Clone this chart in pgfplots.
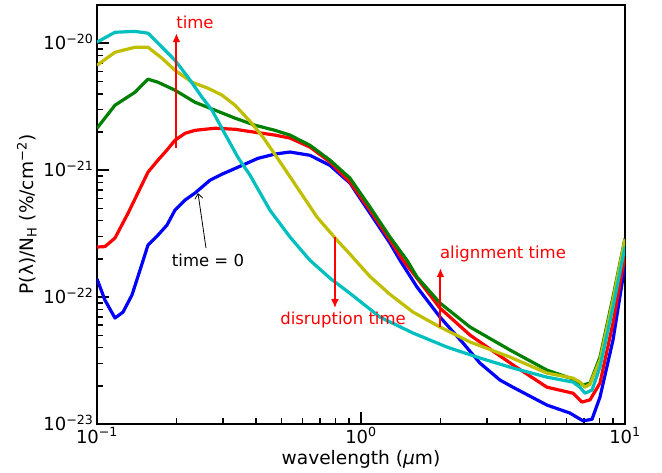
\documentclass[border=0pt]{standalone}
\usepackage{fontspec}
\setmainfont{DejaVu Sans}
\usepackage{pgfplots}
\pgfplotsset{compat=1.18}
\usetikzlibrary{arrows.meta}
\definecolor{mblue}{rgb}{0,0,1}
\definecolor{mgreen}{rgb}{0,0.5,0}
\definecolor{mred}{rgb}{1,0,0}
\definecolor{mcyan}{rgb}{0,0.75,0.75}
\definecolor{myellow}{rgb}{0.75,0.75,0}
\newcommand{\bigf}{\fontsize{18}{21}\selectfont}
\newcommand{\labf}{\fontsize{18.6}{22}\selectfont}
\newcommand{\annf}{\fontsize{16.5}{19}\selectfont}
\begin{document}
\begin{tikzpicture}
\useasboundingbox (0,0) rectangle (662pt,473pt);
\begin{axis}[
  at={(97pt,49pt)}, anchor=south west,
  scale only axis, width=528pt, height=419pt,
  xmode=log, ymode=log,
  xmin=0.1, xmax=10, ymin=1e-23, ymax=2e-20,
  xtick={0.1,1,10},
  xticklabels={10\textsuperscript{−1},10\textsuperscript{0},10\textsuperscript{1}},
  ytick={1e-23,1e-22,1e-21,1e-20},
  yticklabels={10\textsuperscript{−23},10\textsuperscript{−22},10\textsuperscript{−21},10\textsuperscript{−20}},
  minor xtick={0.2,0.3,0.4,0.5,0.6,0.7,0.8,0.9,2,3,4,5,6,7,8,9},
  minor ytick={2e-23,3e-23,4e-23,5e-23,6e-23,7e-23,8e-23,9e-23,2e-22,3e-22,4e-22,5e-22,6e-22,7e-22,8e-22,9e-22,2e-21,3e-21,4e-21,5e-21,6e-21,7e-21,8e-21,9e-21,2e-20},
  tick pos=left, tick align=inside,
  major tick length=12pt, minor tick length=6pt,
  every tick/.style={black, line width=1.6pt},
  axis line style={line width=2.5pt},
  tick label style={font=\bigf},
  xticklabel style={anchor=base, yshift=-19pt},
  yticklabel style={anchor=base east, yshift=-6.5pt},
  xlabel={wavelength (\textit{μ}m)},
  ylabel={P(λ)/N\textsubscript{H} (\%/cm\textsuperscript{−2})},
  label style={font=\labf},
  xlabel style={at={(axis description cs:0.5,0)}, anchor=base, yshift=-40pt},
  ylabel style={at={(axis description cs:-0.1212,0.5)}, anchor=base},
  every axis plot/.append style={line width=3.2pt, line join=round, no markers},
]
\addplot[mblue] coordinates {
(0.1,1.39e-22) (0.1072,9.46e-23) (0.117,6.84e-23) (0.1255,7.62e-23) (0.1357,1.04e-22)
(0.1455,1.63e-22) (0.156,2.57e-22) (0.1702,3.08e-22) (0.1841,3.69e-22) (0.1974,4.84e-22)
(0.2154,5.81e-22) (0.235,6.6e-22) (0.268,8.34e-22) (0.2976,9.3e-22) (0.3543,1.09e-21)
(0.4073,1.24e-21) (0.4723,1.34e-21) (0.5384,1.39e-21) (0.6408,1.31e-21) (0.763,1.09e-21)
(0.9085,7.91e-22) (1.082,4.58e-22) (1.288,2.66e-22) (1.405,1.95e-22) (1.63,1.2e-22)
(1.992,6.96e-23) (2.434,4.35e-23) (2.823,3.02e-23) (3.361,2.22e-23) (3.765,1.95e-23)
(5.064,1.41e-23) (6.19,1.22e-23) (6.58,1.13e-23) (6.935,1.06e-23) (7.5,1.09e-23)
(8.04,1.63e-23) (9.005,4.58e-23) (10,1.8e-22)
};
\addplot[mred] coordinates {
(0.1,2.48e-22) (0.1072,2.5e-22) (0.117,2.92e-22) (0.1311,4.58e-22) (0.156,9.64e-22)
(0.1702,1.2e-21) (0.1841,1.44e-21) (0.1974,1.72e-21) (0.2154,1.95e-21) (0.235,2.06e-21)
(0.2799,2.14e-21) (0.3332,2.1e-21) (0.3968,1.99e-21) (0.4723,1.89e-21) (0.5384,1.79e-21)
(0.6408,1.52e-21) (0.763,1.16e-21) (0.9085,8.05e-22) (1.082,4.84e-22) (1.288,2.81e-22)
(1.443,1.95e-22) (1.63,1.41e-22) (1.992,8.19e-23) (2.588,5.02e-23) (3.451,3.31e-23)
(3.765,2.92e-23) (5.064,1.95e-23) (6.353,1.75e-23) (6.875,1.49e-23) (7.37,1.55e-23)
(8.04,2.1e-23) (9.005,6.24e-23) (10,2.14e-22)
};
\addplot[mgreen] coordinates {
(0.1,2.14e-21) (0.117,3.25e-21) (0.1393,4.11e-21) (0.156,5.21e-21) (0.1702,4.93e-21)
(0.1974,4.27e-21) (0.235,3.43e-21) (0.2799,2.97e-21) (0.3332,2.57e-21) (0.3968,2.26e-21)
(0.4723,2.06e-21) (0.5384,1.89e-21) (0.6408,1.57e-21) (0.763,1.2e-21) (0.9085,8.65e-22)
(1.082,5.12e-22) (1.288,2.97e-22) (1.494,1.95e-22) (1.63,1.44e-22) (1.992,8.98e-23)
(2.588,5.81e-23) (3.667,3.83e-23) (5.064,2.66e-23) (6.353,2.26e-23) (6.935,2.03e-23)
(7.37,2.1e-23) (8.04,3.37e-23) (9.005,1.0e-22) (10,2.9e-22)
};
\addplot[myellow] coordinates {
(0.1,6.71e-21) (0.117,8.49e-21) (0.1393,9.3e-21) (0.156,9.3e-21) (0.1763,7.62e-21)
(0.1974,6.13e-21) (0.229,4.93e-21) (0.2634,4.42e-21) (0.2976,3.9e-21) (0.3332,3.25e-21)
(0.3798,2.43e-21) (0.4254,1.82e-21) (0.4806,1.26e-21) (0.5725,7.34e-22) (0.6813,4.27e-22)
(0.811,2.81e-22) (0.9085,2.18e-22) (1.082,1.45e-22) (1.288,1.05e-22) (1.574,7.62e-23)
(1.992,5.81e-23) (2.588,4.43e-23) (3.667,3.37e-23) (5.064,2.52e-23) (6.353,2.3e-23)
(6.75,2.14e-23) (7.05,1.95e-23) (7.37,2.06e-23) (8.04,3.19e-23) (9.005,9.46e-23) (10,2.85e-22)
};
\addplot[mcyan] coordinates {
(0.1,1.02e-20) (0.117,1.22e-20) (0.1393,1.24e-20) (0.156,1.2e-20) (0.1763,9.3e-21)
(0.1974,7.35e-21) (0.2212,5.4e-21) (0.2498,3.76e-21) (0.2726,2.97e-21) (0.3134,1.75e-21)
(0.342,1.26e-21) (0.3798,9.14e-22) (0.452,4.84e-22) (0.5384,2.97e-22) (0.6408,1.95e-22) (0.763,1.41e-22)
(0.9085,1.07e-22) (1.18,6.96e-23) (1.574,5.21e-23) (2.117,4.04e-23) (2.823,3.31e-23)
(3.765,2.76e-23) (5.064,2.34e-23) (6.353,2.14e-23) (6.75,1.95e-23) (7.05,1.75e-23)
(7.5,1.85e-23) (8.04,2.81e-23) (9.005,8.3e-23) (10,2.5e-22)
};
\draw[red, line width=2pt, -{Latex[length=9pt,width=8pt]}] (axis cs:0.2,1.49e-21) -- (axis cs:0.2,1.2e-20);
\node[text=red, font=\annf] at (axis cs:0.235,1.46e-20) {time};
\draw[black, line width=0.8pt, -{Straight Barb[length=5pt,width=8pt]}] (axis cs:0.2588,2.43e-22) -- (axis cs:0.2413,6.6e-22);
\node[font=\annf] at (axis cs:0.2634,1.95e-22) {time = 0};
\draw[red, line width=2pt, -{Latex[length=9pt,width=8pt]}] (axis cs:0.797,2.97e-22) -- (axis cs:0.797,8.19e-23);
\node[text=red, font=\annf] at (axis cs:0.855,6.59e-23) {disruption time};
\draw[red, line width=2pt, -{Latex[length=9pt,width=8pt]}] (axis cs:2,5.81e-23) -- (axis cs:2,1.69e-22);
\node[text=red, font=\annf] at (axis cs:3.451,2.18e-22) {alignment time};
\end{axis}
\end{tikzpicture}
\end{document}
